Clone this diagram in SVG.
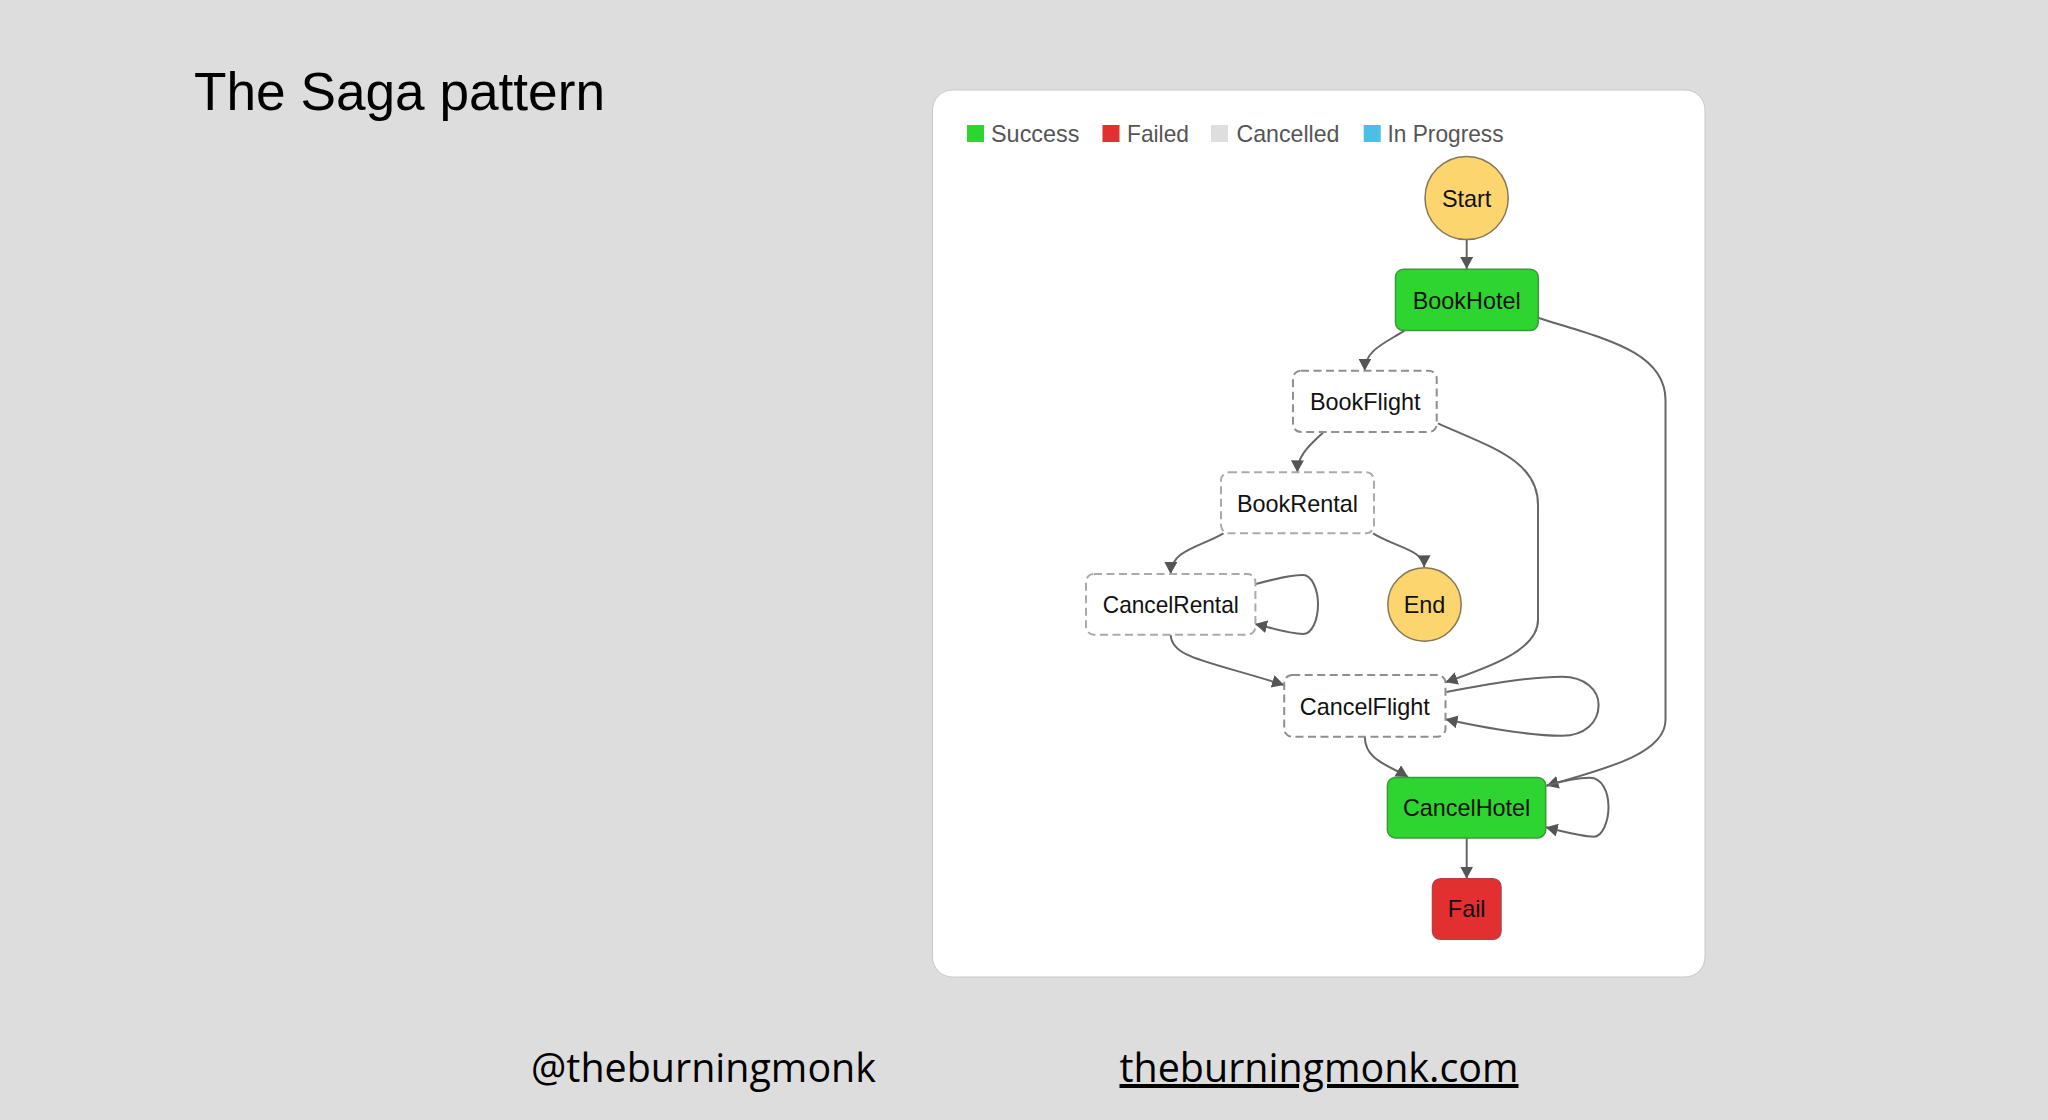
<svg xmlns="http://www.w3.org/2000/svg" width="2048" height="1120" viewBox="0 0 2048 1120">
<style>
.lbl{font-family:"Liberation Sans",Arial,sans-serif;font-size:23.4px;fill:#111;text-anchor:middle}
.leg{font-family:"Liberation Sans",Arial,sans-serif;font-size:23.4px;fill:#555}
.ok{fill:#2ed430;stroke:#3a9a3a;stroke-width:1.5}
.bad{fill:#e22f2f;stroke:#b84040;stroke-width:1.5}
.dash{fill:#fff;stroke:#8f8f8f;stroke-width:2;stroke-dasharray:8 4.5}
.ev{fill:#fdd56f;stroke:#85775a;stroke-width:1.5}
.c{fill:none;stroke:#666;stroke-width:2;marker-end:url(#a)}
.foot{font-family:"Open Sans","Noto Sans",sans-serif;font-size:40px;fill:#000}
</style>
<defs><marker id="a" markerUnits="userSpaceOnUse" markerWidth="14" markerHeight="14" refX="12" refY="6.5" orient="auto"><path d="M0 0L12 6.5L0 13Z" fill="#555"/></marker></defs>
<rect width="2048" height="1120" fill="#dddddd"/>
<text x="194" y="109.5" font-family="'Liberation Sans',Arial,sans-serif" font-size="53.2" fill="#000" textLength="411" lengthAdjust="spacingAndGlyphs">The Saga pattern</text>
<rect x="932.5" y="90" width="772.5" height="887" rx="20" fill="#fff" stroke="#c8c8c8" stroke-width="1"/>
<g id="legend">
<rect x="967" y="125" width="17" height="17" fill="#2ed430"/><text class="leg" x="991" y="141.5" textLength="88.5" lengthAdjust="spacingAndGlyphs">Success</text>
<rect x="1102.5" y="125" width="17" height="17" fill="#e22f2f"/><text class="leg" x="1127" y="141.5" textLength="62" lengthAdjust="spacingAndGlyphs">Failed</text>
<rect x="1211" y="125" width="17" height="17" fill="#dedede"/><text class="leg" x="1236.5" y="141.5" textLength="103" lengthAdjust="spacingAndGlyphs">Cancelled</text>
<rect x="1363.7" y="125" width="17" height="17" fill="#4cbfe6"/><text class="leg" x="1387.5" y="141.5" textLength="116" lengthAdjust="spacingAndGlyphs">In Progress</text>
</g>
<g id="connectors">
<path class="c" d="M1466.7 239.5V269"/>
<path class="c" d="M1404.5 330.7C1385 343 1365 350 1364.7 370.7"/>
<path class="c" d="M1538 317.7C1600 338 1665.5 350 1665.5 400V720C1665.5 755 1600 770 1546.5 785.7"/>
<path class="c" d="M1322.9 432.7C1310 445 1297.5 455 1297.3 472.3"/>
<path class="c" d="M1438 423.3C1490 447 1538 460 1538 505V620C1538 650 1490 667 1445.5 682.3"/>
<path class="c" d="M1223.5 533.3C1200 547 1171 550 1170.6 574"/>
<path class="c" d="M1373 533.3C1395 547 1424 550 1424.2 567.3"/>
<path class="c" d="M1256 584C1275 579 1290 575 1303 575C1312 575 1318 590 1318 604C1318 620 1312 634 1303 634C1290 634 1272 628 1255 624"/>
<path class="c" d="M1170.6 634.7C1172 658 1205 660 1284 685"/>
<path class="c" d="M1446.4 692C1490 684 1530 676.7 1562 676.7C1585 676.7 1598.6 690 1598.6 705C1598.6 722 1585 735.7 1562 735.7C1530 735.7 1490 729 1445.5 719.3"/>
<path class="c" d="M1364.8 736.7C1365 760 1388 765 1408 777"/>
<path class="c" d="M1546.5 785.7C1562 781 1578 777.7 1590 777.7C1602 777.7 1608.5 792 1608.5 807C1608.5 822 1602 836.7 1594 836.7C1582 836.7 1565 832 1545.7 827.3"/>
<path class="c" d="M1466.7 837.7V878.7"/>
</g>
<g id="Start"><circle class="ev" cx="1466.6" cy="198" r="41.6"/><text class="lbl" x="1466.6" y="207">Start</text></g>
<g id="BookHotel"><rect class="ok" x="1395.5" y="269.2" width="142.7" height="61.3" rx="8"/><text class="lbl" x="1466.7" y="309">BookHotel</text></g>
<g id="BookFlight"><rect class="dash" x="1293" y="370.7" width="143.7" height="61.3" rx="8"/><text class="lbl" x="1365.2" y="410">BookFlight</text></g>
<g id="BookRental"><rect class="dash" x="1221" y="472.3" width="153" height="61" rx="8" style="stroke:#aaa"/><text class="lbl" x="1297.4" y="511.7">BookRental</text></g>
<g id="CancelRental"><rect class="dash" x="1086" y="574" width="169.4" height="60.7" rx="8" style="stroke:#aaa"/><text class="lbl" x="1170.8" y="612.7" textLength="136" lengthAdjust="spacingAndGlyphs">CancelRental</text></g>
<g id="End"><circle class="ev" cx="1424.5" cy="604.5" r="36.7"/><text class="lbl" x="1424.5" y="613">End</text></g>
<g id="CancelFlight"><rect class="dash" x="1284.2" y="675" width="161.3" height="61.7" rx="8"/><text class="lbl" x="1364.8" y="714.5">CancelFlight</text></g>
<g id="CancelHotel"><rect class="ok" x="1387.4" y="777.5" width="158.3" height="60.4" rx="8"/><text class="lbl" x="1466.6" y="816.3">CancelHotel</text></g>
<g id="Fail"><rect class="bad" x="1432.5" y="878.7" width="68.5" height="60.6" rx="8"/><text class="lbl" x="1466.7" y="916.7">Fail</text></g>
<text class="foot" x="531" y="1082" textLength="345" lengthAdjust="spacingAndGlyphs">@theburningmonk</text>
<text class="foot" x="1119.5" y="1082" textLength="399" lengthAdjust="spacingAndGlyphs" text-decoration="underline">theburningmonk.com</text>
</svg>
